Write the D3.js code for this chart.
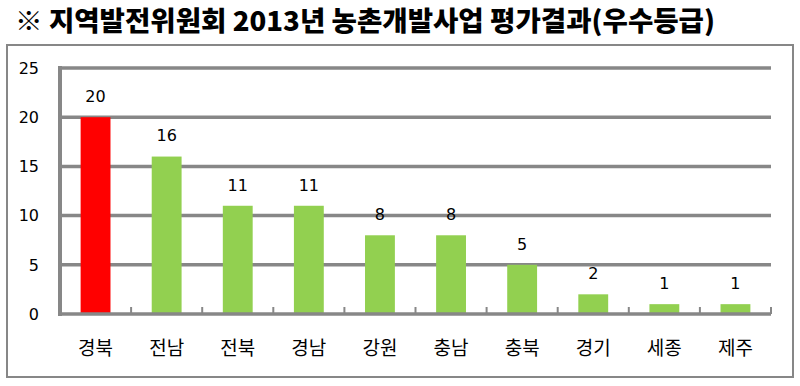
<!DOCTYPE html>
<html><head><meta charset="utf-8">
<script src="https://cdn.jsdelivr.net/npm/d3@7"></script>
<style>body{margin:0;background:#fff}svg{display:block}</style>
</head><body>
<script>
const categories = ["경북","전남","전북","경남","강원","충남","충북","경기","세종","제주"];
const values = [20,16,11,11,8,8,5,2,1,1];
const barColors = ["#FF0000","#92D050","#92D050","#92D050","#92D050","#92D050","#92D050","#92D050","#92D050","#92D050"];
const yTicks = [0,5,10,15,20,25];
const title = "※ 지역발전위원회 2013년 농촌개발사업 평가결과(우수등급)";

const W = 800, H = 386;
const svg = d3.select("body").append("svg").attr("width", W).attr("height", H);
const gray = "#878787";

svg.append("text").attr("x", 15).attr("y", 31)
  .attr("font-family", "'Noto Sans CJK KR', sans-serif").attr("font-weight", 900)
  .attr("font-size", 27).attr("fill", "#000")
  .attr("textLength", 700).attr("lengthAdjust", "spacingAndGlyphs")
  .text(title);

svg.append("rect").attr("x", 7).attr("y", 45).attr("width", 786).attr("height", 332)
  .attr("fill", "none").attr("stroke", gray).attr("stroke-width", 2);

const x0 = 60, x1 = 771, yTop = 68, yBot = 314;
const x = d3.scaleBand().domain(categories).range([x0, x1]).paddingInner(0.58).paddingOuter(0.29);
const xb = d3.scaleBand().domain(categories).range([x0, x1]);
const y = d3.scaleLinear().domain([0, 25]).range([yBot, yTop]);

// gridlines
svg.append("g").selectAll("line").data(yTicks.filter(d => d > 0)).join("line")
  .attr("x1", x0).attr("x2", x1).attr("y1", d => y(d)).attr("y2", d => y(d))
  .attr("stroke", gray).attr("stroke-width", 3.5);

// bars
svg.append("g").selectAll("rect").data(values).join("rect")
  .attr("x", (d, i) => x(categories[i])).attr("width", x.bandwidth())
  .attr("y", d => y(d)).attr("height", d => y(0) - y(d))
  .attr("fill", (d, i) => barColors[i]);

// axes
svg.append("line").attr("x1", x0).attr("x2", x0).attr("y1", yTop - 2).attr("y2", yBot + 2)
  .attr("stroke", gray).attr("stroke-width", 4);
svg.append("line").attr("x1", x0 - 2).attr("x2", x1).attr("y1", yBot).attr("y2", yBot)
  .attr("stroke", gray).attr("stroke-width", 3.5);
// x ticks (inward)
const bounds = categories.map(c => xb(c)).concat([x1]).slice(1);
svg.append("g").selectAll("line").data(bounds).join("line")
  .attr("x1", d => d).attr("x2", d => d).attr("y1", yBot).attr("y2", yBot - 7)
  .attr("stroke", gray).attr("stroke-width", 2);

// y tick labels
svg.append("g").selectAll("text").data(yTicks).join("text")
  .attr("x", 39).attr("y", d => y(d)).attr("dy", "0.36em")
  .attr("text-anchor", "end").attr("font-family", "'DejaVu Sans', sans-serif")
  .attr("font-size", 16).attr("fill", "#000").text(d => d);

// x labels
svg.append("g").selectAll("text").data(categories).join("text")
  .attr("x", d => x(d) + x.bandwidth() / 2).attr("y", 348).attr("dy", "0.36em")
  .attr("text-anchor", "middle").attr("font-family", "'Noto Sans CJK KR', sans-serif")
  .attr("font-size", 19).attr("fill", "#000").text(d => d);

// value labels
svg.append("g").selectAll("text").data(values).join("text")
  .attr("x", (d, i) => x(categories[i]) + x.bandwidth() / 2).attr("y", d => y(d) - 21).attr("dy", "0.36em")
  .attr("text-anchor", "middle").attr("font-family", "'DejaVu Sans', sans-serif")
  .attr("font-size", 16).attr("fill", "#000").text(d => d);
</script>
</body></html>
